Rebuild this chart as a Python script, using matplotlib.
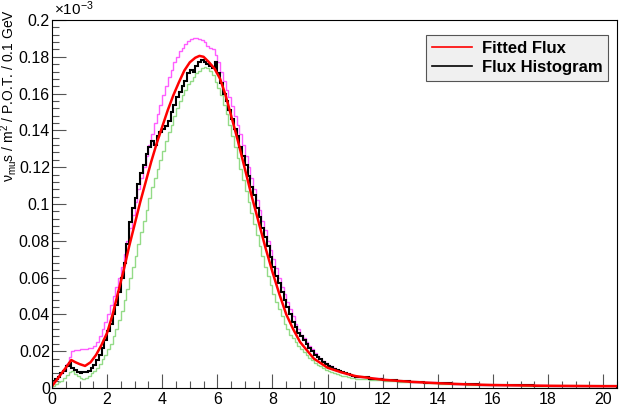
import numpy as np
import matplotlib
matplotlib.use("Agg")
import matplotlib.pyplot as plt
from matplotlib.ticker import MultipleLocator

plt.rcParams["font.family"] = ["Liberation Sans", "DejaVu Sans"]
plt.rcParams["mathtext.fontset"] = "custom"
plt.rcParams["mathtext.rm"] = "Liberation Sans"
plt.rcParams["mathtext.it"] = "Liberation Sans:italic"

# bin edges: 0.1 GeV bins up to 11 GeV, then 0.5 GeV bins to 20.5 GeV
edges_fine = np.round(np.arange(0, 111) * 0.1, 1)
edges_tail = np.round(11.0 + np.arange(1, 20) * 0.5, 1)
edges = np.concatenate([edges_fine, edges_tail])

# flux histogram (black), values in units of 1e-3
hist_flux = [
    0.004, 0.005, 0.006, 0.008, 0.009, 0.012, 0.0135, 0.011, 0.010, 0.0085,
    0.008, 0.0085, 0.0085, 0.0095, 0.011, 0.0125, 0.015, 0.018, 0.022, 0.026,
    0.031, 0.035, 0.040, 0.045, 0.052, 0.060, 0.068, 0.078, 0.090, 0.098,
    0.103, 0.111, 0.117, 0.121, 0.127, 0.131, 0.134, 0.132, 0.137, 0.139,
    0.141, 0.1425, 0.145, 0.150, 0.154, 0.158, 0.161, 0.164, 0.167, 0.171,
    0.173, 0.172, 0.175, 0.177, 0.178, 0.177, 0.176, 0.175, 0.174, 0.177,
    0.171, 0.166, 0.160, 0.156, 0.151, 0.146, 0.141, 0.137, 0.131, 0.126,
    0.121, 0.115, 0.109, 0.105, 0.098, 0.093, 0.087, 0.082, 0.077, 0.071,
    0.066, 0.061, 0.057, 0.052, 0.048, 0.044, 0.040, 0.036, 0.033, 0.030,
    0.028, 0.026, 0.024, 0.022, 0.020, 0.018, 0.0168, 0.0155, 0.0143, 0.0132,
    0.0122, 0.0113, 0.0105, 0.0098, 0.0092, 0.0086, 0.008, 0.0075, 0.0071, 0.0067,
    0.006, 0.0051, 0.0044, 0.0038, 0.0033, 0.0029, 0.0025, 0.0022, 0.002, 0.0018,
    0.0016, 0.0015, 0.0014, 0.0013, 0.0012, 0.0011, 0.0011, 0.001, 0.001,
]

# upper variation (magenta)
hist_up = [
    0.004, 0.005, 0.007, 0.008, 0.010, 0.013, 0.017, 0.020, 0.0205, 0.0205,
    0.021, 0.021, 0.0212, 0.0215, 0.022, 0.023, 0.025, 0.028, 0.032, 0.036,
    0.040, 0.045, 0.050, 0.055, 0.060, 0.066, 0.073, 0.080, 0.087, 0.094,
    0.101, 0.108, 0.114, 0.120, 0.126, 0.132, 0.138, 0.144, 0.149, 0.154,
    0.159, 0.164, 0.169, 0.173, 0.177, 0.180, 0.183, 0.185, 0.187, 0.1885,
    0.1895, 0.190, 0.190, 0.1895, 0.189, 0.188, 0.186, 0.185, 0.184, 0.181,
    0.177, 0.172, 0.167, 0.162, 0.158, 0.153, 0.148, 0.143, 0.138, 0.132,
    0.126, 0.120, 0.114, 0.108, 0.102, 0.097, 0.091, 0.086, 0.080, 0.075,
    0.070, 0.065, 0.060, 0.055, 0.051, 0.047, 0.043, 0.039, 0.035, 0.032,
    0.029, 0.027, 0.025, 0.023, 0.021, 0.019, 0.0175, 0.016, 0.0148, 0.0137,
    0.0127, 0.0117, 0.0108, 0.010, 0.0093, 0.0087, 0.0081, 0.0076, 0.0071, 0.0067,
    0.0062, 0.0053, 0.0045, 0.0039, 0.0034, 0.003, 0.0026, 0.0023, 0.0021, 0.0019,
    0.0017, 0.0016, 0.0015, 0.0014, 0.0013, 0.0012, 0.0012, 0.0011, 0.0011,
]

# lower variation (green)
hist_down = [
    0.001, 0.002, 0.003, 0.004, 0.0055, 0.007, 0.0085, 0.009, 0.0075, 0.0065,
    0.0055, 0.005, 0.0055, 0.0065, 0.008, 0.0095, 0.011, 0.013, 0.0155, 0.018,
    0.021, 0.024, 0.028, 0.032, 0.037, 0.042, 0.048, 0.054, 0.060, 0.066,
    0.072, 0.078, 0.085, 0.091, 0.097, 0.103, 0.109, 0.114, 0.119, 0.124,
    0.129, 0.134, 0.139, 0.143, 0.148, 0.152, 0.156, 0.159, 0.162, 0.165,
    0.167, 0.169, 0.171, 0.1725, 0.174, 0.1745, 0.174, 0.1725, 0.170, 0.1665,
    0.163, 0.159, 0.154, 0.149, 0.143, 0.137, 0.131, 0.125, 0.119, 0.113,
    0.107, 0.101, 0.095, 0.089, 0.083, 0.077, 0.072, 0.066, 0.061, 0.056,
    0.051, 0.047, 0.043, 0.039, 0.035, 0.032, 0.029, 0.027, 0.025, 0.023,
    0.021, 0.0195, 0.018, 0.0165, 0.015, 0.0138, 0.0127, 0.0117, 0.0108, 0.010,
    0.0093, 0.0087, 0.0081, 0.0076, 0.0071, 0.0067, 0.0063, 0.006, 0.0057, 0.0054,
    0.005, 0.0044, 0.0039, 0.0034, 0.003, 0.0026, 0.0023, 0.002, 0.0018, 0.0016,
    0.0015, 0.0014, 0.0013, 0.0012, 0.0011, 0.001, 0.001, 0.0009, 0.0009,
]

# fitted flux (red curve)
fit_x = [0, 0.25, 0.5, 0.7, 0.85, 1.0, 1.2, 1.4, 1.6, 1.8,
         2.0, 2.2, 2.4, 2.6, 2.8, 3.0, 3.2, 3.4, 3.6, 3.8,
         4.0, 4.2, 4.4, 4.6, 4.8, 5.0, 5.2, 5.35, 5.5, 5.7,
         5.9, 6.1, 6.3, 6.5, 6.75, 7.0, 7.25, 7.5, 7.75, 8.0,
         8.25, 8.5, 8.75, 9.0, 9.5, 10.0, 10.5, 11.0, 12.0, 13.0,
         14.0, 15.0, 16.0, 17.0, 18.0, 19.0, 20.0, 20.5]
fit_y = [0.001, 0.006, 0.011, 0.0152, 0.014, 0.013, 0.012, 0.014, 0.018, 0.0235,
         0.030, 0.040, 0.052, 0.064, 0.077, 0.089, 0.101, 0.112, 0.123, 0.133,
         0.142, 0.151, 0.159, 0.166, 0.1725, 0.177, 0.1795, 0.1805, 0.180, 0.177,
         0.1735, 0.168, 0.159, 0.148, 0.134, 0.119, 0.104, 0.090, 0.076, 0.063,
         0.051, 0.040, 0.032, 0.025, 0.016, 0.011, 0.0085, 0.0065, 0.0045, 0.0034,
         0.0026, 0.002, 0.0016, 0.0014, 0.0012, 0.0011, 0.001, 0.001]

xticks = [0, 2, 4, 6, 8, 10, 12, 14, 16, 18, 20]
yticks = [0, 0.02, 0.04, 0.06, 0.08, 0.1, 0.12, 0.14, 0.16, 0.18, 0.2]
ytick_labels = ["0", "0.02", "0.04", "0.06", "0.08", "0.1", "0.12", "0.14", "0.16", "0.18", "0.2"]

fig = plt.figure(figsize=(6.21, 4.07), dpi=100)
ax = fig.add_axes([52 / 621, 1 - 388 / 407, 565 / 621, 368 / 407])

ax.stairs(hist_up, edges, color="#ff33ff", lw=1.0, alpha=0.8)
ax.stairs(hist_down, edges, color="#66cc55", lw=1.0, alpha=0.7)
ax.stairs(hist_flux, edges, color="black", lw=1.5, label="Flux Histogram")
ax.plot(fit_x, fit_y, color="#ff0000", lw=1.8, label="Fitted Flux")

ax.set_xlim(0, 20.5)
ax.set_ylim(0, 0.2)
ax.set_xticks(xticks)
ax.set_yticks(yticks)
ax.set_yticklabels(ytick_labels)
ax.xaxis.set_minor_locator(MultipleLocator(0.5))
ax.yaxis.set_minor_locator(MultipleLocator(0.004))
ax.tick_params(which="both", direction="in", top=False, right=False,
               labelsize=11.5, color="#555555")
ax.tick_params(axis="y", pad=1.5)
ax.tick_params(axis="x", pad=3)
ax.tick_params(which="major", length=10, width=0.8)
ax.tick_params(which="minor", length=5, width=0.8)
for s in ax.spines.values():
    s.set_linewidth(0.8)

fig.text(9 / 621, 1 - 9 / 407,
         "ν$_{\\mathrm{mu}}$s / m$^{2}$ / P.O.T. / 0.1 GeV",
         rotation=90, ha="center", va="top", fontsize=10)
fig.text(54 / 621, 1 - 9 / 407, "×10$^{-3}$", ha="left", va="center", fontsize=11)

h, l = ax.get_legend_handles_labels()
leg = ax.legend(h[::-1], l[::-1], loc="upper right", bbox_to_anchor=(0.9995, 0.982),
                frameon=True, fancybox=False, handlelength=2.4,
                borderpad=0.35, labelspacing=0.25, handletextpad=0.6,
                prop={"weight": "bold", "size": 12})
leg.get_frame().set_facecolor("#f0f0f0")
leg.get_frame().set_edgecolor("#555555")
leg.get_frame().set_linewidth(0.8)
leg.get_frame().set_alpha(1)
for line in leg.get_lines():
    line.set_linewidth(1.2)

fig.savefig("out.png", dpi=100)
